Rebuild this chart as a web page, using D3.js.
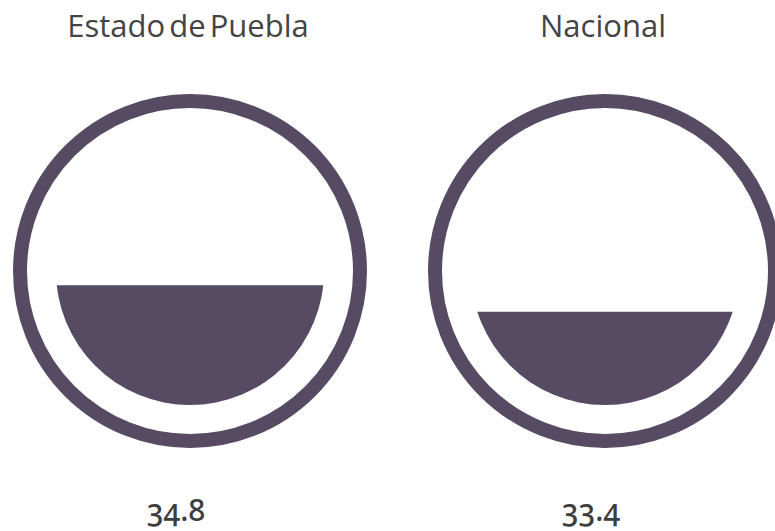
<!DOCTYPE html>
<html>
<head>
<meta charset="utf-8">
<script src="https://cdn.jsdelivr.net/npm/d3@7"></script>
<style>
  html, body { margin: 0; padding: 0; background: #ffffff; }
  svg { display: block; }
  .title { font-family: "Open Sans", sans-serif; font-size: 31px; fill: #444444; word-spacing: -4px; }
  .value { font-family: "Noto Sans", sans-serif; font-size: 30px; font-weight: 500; fill: #3d3d3d;
           font-feature-settings: "onum" 1; font-variant-numeric: oldstyle-nums; }
</style>
</head>
<body>
<svg id="chart" width="775" height="531"></svg>
<script>
// Gauge data
const regions = ["Estado de Puebla", "Nacional"];
const values = [34.8, 33.4];
const valueLabels = ["34.8", "33.4"];

const W = 775, H = 531;
const color = "#574a63";
const ringR = 170, ringW = 14, fillR = 134, cy = 271;

const svg = d3.select("#chart");

// Horizontal placement of the two gauges
const x = d3.scalePoint().domain(regions).range([190, 605]);

// Fill level: value -> y position of the liquid surface inside the inner disc
const level = d3.scaleLinear().domain([28.5, 42.6]).range([cy + fillR, cy - fillR]);

const g = svg.selectAll("g.gauge")
  .data(regions.map((r, i) => ({ region: r, value: values[i], label: valueLabels[i], i })))
  .join("g")
  .attr("class", "gauge");

const defs = svg.append("defs");
defs.selectAll("clipPath")
  .data(values)
  .join("clipPath")
  .attr("id", (d, i) => "lvl" + i)
  .append("rect")
  .attr("x", 0)
  .attr("width", W)
  .attr("y", d => level(d))
  .attr("height", d => cy + fillR - level(d) + 2);

g.append("circle")
  .attr("cx", d => x(d.region))
  .attr("cy", cy)
  .attr("r", ringR)
  .attr("fill", "none")
  .attr("stroke", color)
  .attr("stroke-width", ringW);

g.append("circle")
  .attr("cx", d => x(d.region))
  .attr("cy", cy)
  .attr("r", fillR)
  .attr("fill", color)
  .attr("clip-path", d => `url(#lvl${d.i})`);

g.append("text")
  .attr("class", "title")
  .attr("x", d => x(d.region) - 2)
  .attr("y", 37)
  .attr("text-anchor", "middle")
  .text(d => d.region);

g.append("text")
  .attr("class", "value")
  .attr("x", d => x(d.region) - 14)
  .attr("y", 521)
  .attr("text-anchor", "middle")
  .text(d => d.label);
</script>
</body>
</html>
